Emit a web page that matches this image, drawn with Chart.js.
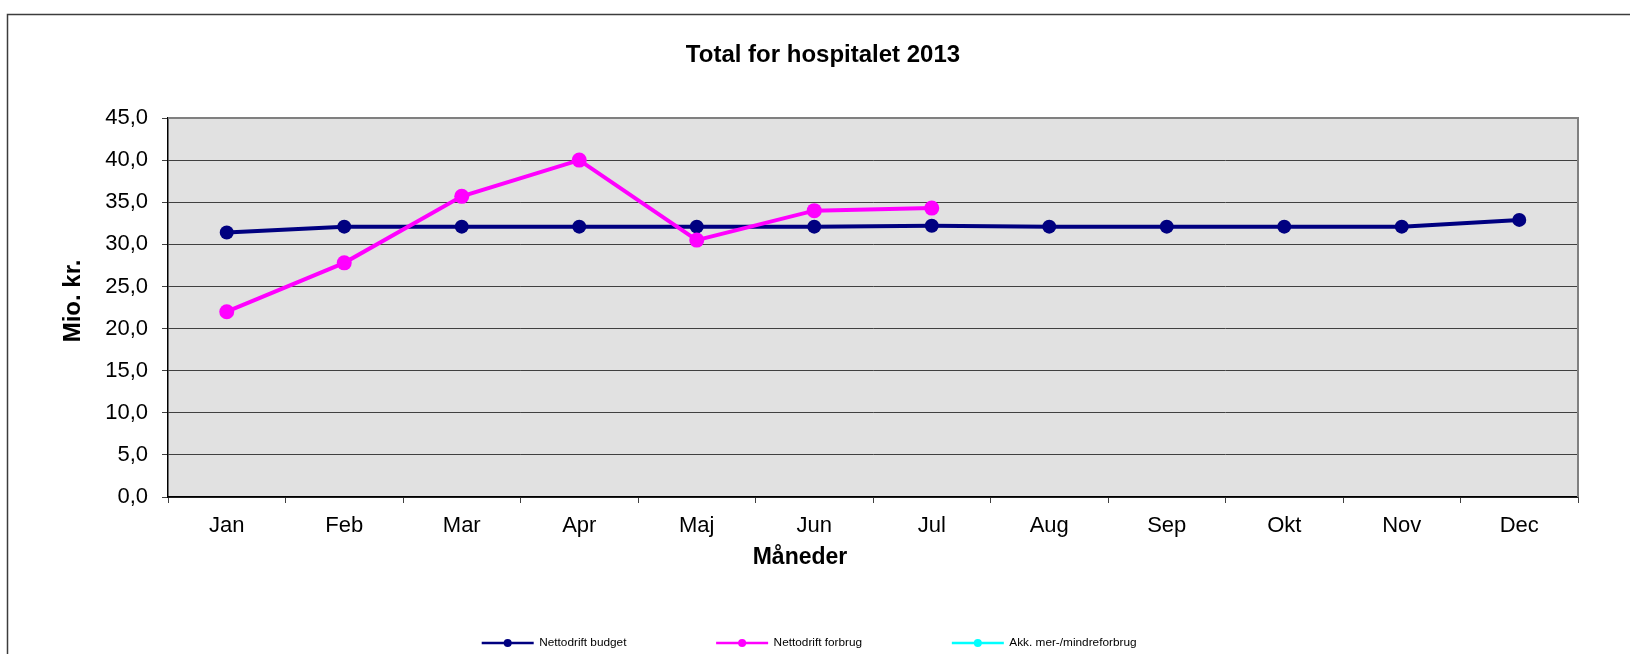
<!DOCTYPE html>
<html><head><meta charset="utf-8">
<script src="https://cdn.jsdelivr.net/npm/chart.js@4/dist/chart.umd.min.js"></script>
<style>html,body{margin:0;padding:0;background:#fff;}canvas{display:block;}</style>
</head><body>
<canvas id="c" width="1630" height="654"></canvas>
<script>
const months = ['Jan','Feb','Mar','Apr','Maj','Jun','Jul','Aug','Sep','Okt','Nov','Dec'];
const budget = [31.4,32.1,32.1,32.1,32.1,32.1,32.2,32.1,32.1,32.1,32.1,32.9];
const forbrug = [22.0,27.8,35.7,40.0,30.5,34.0,34.3,null,null,null,null,null];
const akkMerMindre = [null,null,null,null,null,null,null,null,null,null,null,null];
const seriesNames = ['Nettodrift budget','Nettodrift forbrug','Akk. mer-/mindreforbrug'];
const yTickLabels = ['0,0','5,0','10,0','15,0','20,0','25,0','30,0','35,0','40,0','45,0'];
const chartTitle = 'Total for hospitalet 2013';
const yAxisTitle = 'Mio. kr.';
const xAxisTitle = 'Måneder';

const FONT = '"Liberation Sans", Arial, Helvetica, sans-serif';

const deco = {
  id: 'deco',
  beforeDraw(chart) {
    const {ctx, chartArea: a} = chart;
    ctx.save();
    ctx.fillStyle = '#ffffff';
    ctx.fillRect(0, 0, chart.width, chart.height);
    ctx.strokeStyle = '#3c3c3c';
    ctx.lineWidth = 1.5;
    ctx.beginPath();
    ctx.moveTo(7.5, chart.height + 2);
    ctx.lineTo(7.5, 14.5);
    ctx.lineTo(chart.width + 2, 14.5);
    ctx.stroke();
    ctx.fillStyle = '#e1e1e1';
    ctx.fillRect(a.left, a.top, a.width, a.height);
    ctx.restore();
  },
  beforeDatasetsDraw(chart) {
    const {ctx, chartArea: a} = chart;
    ctx.save();
    ctx.strokeStyle = '#808080';
    ctx.lineWidth = 2;
    ctx.beginPath();
    ctx.moveTo(a.left, a.top);
    ctx.lineTo(a.right, a.top);
    ctx.lineTo(a.right, a.bottom);
    ctx.stroke();
    ctx.restore();
  },
  afterDraw(chart) {
    const {ctx} = chart;
    ctx.save();
    ctx.fillStyle = '#000';
    ctx.textAlign = 'center';
    ctx.textBaseline = 'alphabetic';
    ctx.font = 'bold 24px ' + FONT;
    ctx.fillText(chartTitle, 823, 62);
    ctx.font = 'bold 23px ' + FONT;
    ctx.fillText(xAxisTitle, 800, 564);
    ctx.save();
    ctx.font = 'bold 24px ' + FONT;
    ctx.translate(80, 301);
    ctx.rotate(-Math.PI / 2);
    ctx.fillText(yAxisTitle, 0, 0);
    ctx.restore();

    // legend
    ctx.font = '11.8px ' + FONT;
    let x = 481.7;
    const ly = 643;
    chart.data.datasets.forEach(ds => {
      ctx.strokeStyle = ds.borderColor;
      ctx.fillStyle = ds.borderColor;
      ctx.lineWidth = 2.5;
      ctx.beginPath();
      ctx.moveTo(x, ly);
      ctx.lineTo(x + 52, ly);
      ctx.stroke();
      ctx.beginPath();
      ctx.arc(x + 26, ly, 4, 0, Math.PI * 2);
      ctx.fill();
      ctx.fillStyle = '#000';
      ctx.textAlign = 'left';
      ctx.textBaseline = 'middle';
      ctx.fillText(ds.label, x + 57.5, ly);
      const w = ctx.measureText(ds.label).width;
      x += 57.5 + w + 89.7;
    });
    ctx.restore();
  }
};

new Chart(document.getElementById('c'), {
  type: 'line',
  data: {
    labels: months,
    datasets: [
      {label: seriesNames[0], data: budget, borderColor: '#000080', backgroundColor: '#000080',
       borderWidth: 4, pointRadius: 7, pointHoverRadius: 7, pointBorderWidth: 0, tension: 0, order: 2},
      {label: seriesNames[1], data: forbrug, borderColor: '#ff00ff', backgroundColor: '#ff00ff',
       borderWidth: 4, pointRadius: 7.5, pointHoverRadius: 7.5, pointBorderWidth: 0, tension: 0, order: 1},
      {label: seriesNames[2], data: akkMerMindre, borderColor: '#00ffff', backgroundColor: '#00ffff',
       borderWidth: 4, pointRadius: 7, pointBorderWidth: 0, tension: 0, order: 0}
    ]
  },
  options: {
    responsive: false,
    animation: false,
    events: [],
    layout: {padding: {left: 0, top: 118, right: 52, bottom: 117}},
    plugins: {legend: {display: false}, title: {display: false}, tooltip: {enabled: false}},
    scales: {
      x: {
        offset: true,
        grid: {offset: true, drawOnChartArea: false, drawTicks: true, tickLength: 6, color: '#404040', lineWidth: 1},
        border: {display: true, color: '#000', width: 1.5},
        ticks: {font: {family: FONT, size: 22}, color: '#000', padding: 10, maxRotation: 0, autoSkip: false},
        afterFit(s) { s.height = 40; }
      },
      y: {
        min: 0, max: 45,
        ticks: {stepSize: 5, font: {family: FONT, size: 22}, color: '#000', padding: 14,
                callback: (v, i) => yTickLabels[i]},
        grid: {color: '#404040', lineWidth: 1, tickLength: 6, drawTicks: true},
        border: {display: true, color: '#000', width: 1.5},
        afterFit(s) { s.width = 168; }
      }
    }
  },
  plugins: [deco]
});
</script>
</body></html>
